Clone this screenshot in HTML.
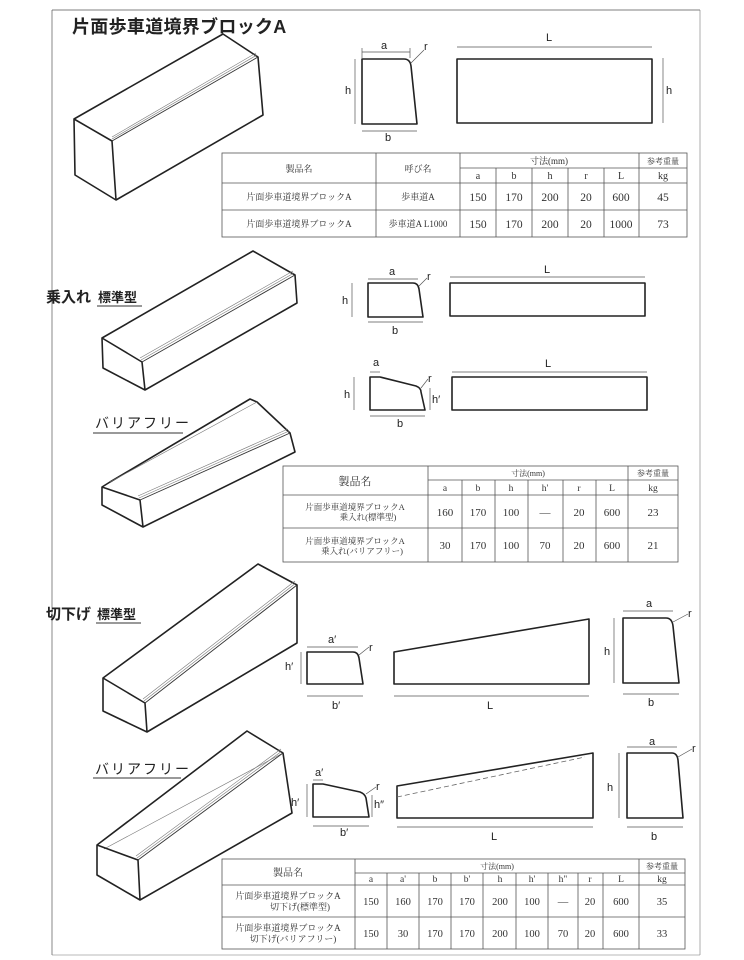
<!DOCTYPE html>
<html><head><meta charset="utf-8"><style>
html,body{margin:0;padding:0;background:#fff;}
svg{display:block;}
.o{fill:none;stroke:#222;stroke-width:1.6;stroke-linejoin:round;}
.t{fill:none;stroke:#333;stroke-width:0.9;}
.d{fill:none;stroke:#555;stroke-width:0.7;}
.g{fill:none;stroke:#777;stroke-width:0.6;}
.s{font-family:"Liberation Sans","Noto Sans CJK JP",sans-serif;fill:#222;}
.tb{font-family:"Liberation Serif","Noto Serif CJK JP",serif;fill:#333;text-anchor:middle;}
.grid{fill:none;stroke:#555;stroke-width:0.8;}
</style></head><body>
<svg width="744" height="960" viewBox="0 0 744 960" xmlns="http://www.w3.org/2000/svg">
<!-- frame -->
<line x1="52" y1="10" x2="700" y2="10" class="d"/>
<line x1="52" y1="10" x2="52" y2="955" class="d"/>
<line x1="700" y1="10" x2="700" y2="955" class="g"/>
<line x1="52" y1="955" x2="700" y2="955" class="g"/>

<text x="72" y="33" class="s" font-size="18" font-weight="bold" letter-spacing="0.3">片面歩車道境界ブロックA</text>

<!-- Block 1 -->
<polygon class="o" points="74,119 223,34 258,57 263,115 116,200 75,175"/>
<polyline class="o" points="74,119 112,141 116,200"/>
<line x1="112" y1="141" x2="258" y2="57" class="t"/>
<line x1="112" y1="139" x2="257" y2="55" class="g"/>
<line x1="112" y1="137" x2="256" y2="53" class="g"/>

<!-- top section views -->
<path class="o" d="M362,59 L404,59 Q410,59 411,66 L417,124 L362,124 Z"/>
<line x1="362" y1="52" x2="410" y2="52" class="d"/><line x1="362" y1="48" x2="362" y2="58" class="d"/><line x1="410" y1="48" x2="410" y2="58" class="d"/>
<text x="381" y="49" class="s" font-size="11">a</text>
<line x1="355" y1="59" x2="355" y2="124" class="d"/>
<text x="345" y="94" class="s" font-size="11">h</text>
<line x1="362" y1="131" x2="417" y2="131" class="d"/>
<text x="385" y="141" class="s" font-size="11">b</text>
<line x1="411" y1="63" x2="424" y2="50" class="d"/>
<text x="424" y="50" class="s" font-size="11">r</text>
<rect x="457" y="59" width="195" height="64" class="o"/>
<line x1="457" y1="47" x2="652" y2="47" class="d"/>
<text x="546" y="41" class="s" font-size="11">L</text>
<line x1="663" y1="58" x2="663" y2="123" class="d"/>
<text x="666" y="94" class="s" font-size="11">h</text>

<!-- Table 1 -->
<g class="grid">
<rect x="222" y="153" width="465" height="84"/>
<line x1="376" y1="153" x2="376" y2="237"/><line x1="460" y1="153" x2="460" y2="237"/>
<line x1="496" y1="168" x2="496" y2="237"/><line x1="532" y1="168" x2="532" y2="237"/>
<line x1="568" y1="168" x2="568" y2="237"/><line x1="604" y1="168" x2="604" y2="237"/>
<line x1="639" y1="153" x2="639" y2="237"/>
<line x1="460" y1="168" x2="687" y2="168"/>
<line x1="222" y1="183" x2="687" y2="183"/><line x1="222" y1="210" x2="687" y2="210"/>
</g>
<g class="tb" font-size="9">
<text x="299" y="172">製品名</text><text x="418" y="172">呼び名</text>
<text x="549" y="164">寸法(mm)</text><text x="663" y="164" font-size="8">参考重量</text>
<text x="299" y="200">片面歩車道境界ブロックA</text><text x="418" y="200">歩車道A</text>
<text x="299" y="227">片面歩車道境界ブロックA</text><text x="418" y="227">歩車道A L1000</text>
</g>
<g class="tb" font-size="10">
<text x="478" y="179">a</text><text x="514" y="179">b</text><text x="550" y="179">h</text><text x="586" y="179">r</text><text x="621" y="179">L</text><text x="663" y="179">kg</text>
</g>
<g class="tb" font-size="11.5">
<text x="478" y="201">150</text><text x="514" y="201">170</text><text x="550" y="201">200</text><text x="586" y="201">20</text><text x="621" y="201">600</text><text x="663" y="201">45</text>
<text x="478" y="228">150</text><text x="514" y="228">170</text><text x="550" y="228">200</text><text x="586" y="228">20</text><text x="621" y="228">1000</text><text x="663" y="228">73</text>
</g>

<!-- Section 2 -->
<text x="46" y="302" class="s" font-size="15" font-weight="bold">乗入れ</text>
<text x="98" y="302" class="s" font-size="13" font-weight="bold">標準型</text>
<line x1="97" y1="306" x2="142" y2="306" class="t"/>
<polygon class="o" points="102,338 253,251 295,275 297,303 145,390 103,368"/>
<polyline class="o" points="102,338 142,362 145,390"/>
<line x1="142" y1="362" x2="295" y2="275" class="t"/>
<line x1="141" y1="360" x2="294" y2="273" class="g"/>
<line x1="140" y1="358" x2="293" y2="271" class="g"/>

<text x="95" y="428" class="s" font-size="14" letter-spacing="2">バリアフリー</text>
<line x1="93" y1="433" x2="183" y2="433" class="t"/>
<polygon class="o" points="102,487 110,482 250,399 257,402 290,433 295,452 143,527 102,505"/>
<line x1="110" y1="482" x2="257" y2="402" class="g"/>
<polyline class="o" points="102,487 140,500 143,527"/>
<line x1="140" y1="500" x2="290" y2="433" class="t"/>
<line x1="139" y1="498" x2="289" y2="431" class="g"/>
<line x1="138" y1="496" x2="288" y2="429" class="g"/>

<!-- section 2 views -->
<path class="o" d="M368,283 L413,283 Q418,283 419,289 L423,317 L368,317 Z"/>
<line x1="368" y1="279" x2="418" y2="279" class="d"/>
<text x="389" y="275" class="s" font-size="11">a</text>
<line x1="352" y1="283" x2="352" y2="317" class="d"/>
<text x="342" y="304" class="s" font-size="11">h</text>
<line x1="368" y1="322" x2="423" y2="322" class="d"/>
<text x="392" y="334" class="s" font-size="11">b</text>
<line x1="419" y1="286" x2="427" y2="278" class="d"/>
<text x="427" y="280" class="s" font-size="11">r</text>
<rect x="450" y="283" width="195" height="33" class="o"/>
<line x1="450" y1="277" x2="645" y2="277" class="d"/>
<text x="544" y="273" class="s" font-size="11">L</text>

<path class="o" d="M370,377 L380,377 L416,386 Q421,388 421,392 L425,410 L370,410 Z"/>
<line x1="370" y1="372" x2="380" y2="372" class="d"/>
<text x="373" y="366" class="s" font-size="11">a</text>
<line x1="354" y1="377" x2="354" y2="410" class="d"/>
<text x="344" y="398" class="s" font-size="11">h</text>
<line x1="430" y1="388" x2="430" y2="410" class="d"/>
<text x="432" y="403" class="s" font-size="11">h′</text>
<line x1="370" y1="416" x2="425" y2="416" class="d"/>
<text x="397" y="427" class="s" font-size="11">b</text>
<line x1="421" y1="388" x2="428" y2="379" class="d"/>
<text x="428" y="382" class="s" font-size="11">r</text>
<rect x="452" y="377" width="195" height="33" class="o"/>
<line x1="452" y1="372" x2="647" y2="372" class="d"/>
<text x="545" y="367" class="s" font-size="11">L</text>

<!-- Table 2 -->
<g class="grid">
<rect x="283" y="466" width="395" height="96"/>
<line x1="428" y1="466" x2="428" y2="562"/>
<line x1="462" y1="480" x2="462" y2="562"/><line x1="495" y1="480" x2="495" y2="562"/>
<line x1="528" y1="480" x2="528" y2="562"/><line x1="563" y1="480" x2="563" y2="562"/>
<line x1="596" y1="480" x2="596" y2="562"/><line x1="628" y1="466" x2="628" y2="562"/>
<line x1="428" y1="480" x2="678" y2="480"/>
<line x1="283" y1="495" x2="678" y2="495"/><line x1="283" y1="528" x2="678" y2="528"/>
</g>
<g class="tb">
<text x="355" y="485" font-size="11">製品名</text>
<text x="528" y="476" font-size="8">寸法(mm)</text><text x="653" y="476" font-size="8">参考重量</text>
<text x="355" y="510" font-size="8.5">片面歩車道境界ブロックA</text><text x="368" y="520" font-size="8.5">乗入れ(標準型)</text>
<text x="355" y="544" font-size="8.5">片面歩車道境界ブロックA</text><text x="362" y="554" font-size="8.5">乗入れ(バリアフリー)</text>
</g>
<g class="tb" font-size="9.5">
<text x="445" y="491">a</text><text x="478" y="491">b</text><text x="511" y="491">h</text><text x="545" y="491">h'</text><text x="579" y="491">r</text><text x="612" y="491">L</text><text x="653" y="491">kg</text>
</g>
<g class="tb" font-size="11">
<text x="445" y="516">160</text><text x="478" y="516">170</text><text x="511" y="516">100</text><text x="545" y="516">—</text><text x="579" y="516">20</text><text x="612" y="516">600</text><text x="653" y="516">23</text>
<text x="445" y="549">30</text><text x="478" y="549">170</text><text x="511" y="549">100</text><text x="545" y="549">70</text><text x="579" y="549">20</text><text x="612" y="549">600</text><text x="653" y="549">21</text>
</g>

<!-- Section 3 -->
<text x="46" y="619" class="s" font-size="15" font-weight="bold">切下げ</text>
<text x="97" y="619" class="s" font-size="13" font-weight="bold">標準型</text>
<line x1="96" y1="623" x2="141" y2="623" class="t"/>
<polygon class="o" points="103,678 258,564 297,585 297,643 147,732 103,711"/>
<polyline class="o" points="103,678 145,703 147,732"/>
<line x1="145" y1="703" x2="297" y2="585" class="t"/>
<line x1="144" y1="701" x2="296" y2="583" class="g"/>
<line x1="143" y1="699" x2="295" y2="581" class="g"/>

<text x="95" y="774" class="s" font-size="14" letter-spacing="2">バリアフリー</text>
<line x1="93" y1="778" x2="181" y2="778" class="t"/>
<polygon class="o" points="97,845 247,731 283,753 292,813 140,900 97,875"/>
<line x1="104" y1="849" x2="283" y2="753" class="g"/>
<polyline class="o" points="97,845 138,860 140,900"/>
<line x1="138" y1="860" x2="283" y2="753" class="t"/>
<line x1="137" y1="858" x2="282" y2="751" class="g"/>
<line x1="136" y1="856" x2="281" y2="749" class="g"/>

<!-- section 3 views upper -->
<path class="o" d="M307,652 L353,652 Q358,652 359,658 L363,684 L307,684 Z"/>
<line x1="307" y1="647" x2="358" y2="647" class="d"/>
<text x="328" y="643" class="s" font-size="11">a′</text>
<line x1="301" y1="652" x2="301" y2="684" class="d"/>
<text x="285" y="670" class="s" font-size="11">h′</text>
<line x1="307" y1="696" x2="363" y2="696" class="d"/>
<text x="332" y="709" class="s" font-size="11">b′</text>
<line x1="359" y1="655" x2="369" y2="647" class="d"/>
<text x="369" y="651" class="s" font-size="11">r</text>
<polygon class="o" points="394,652 589,619 589,684 394,684"/>
<line x1="394" y1="696" x2="589" y2="696" class="d"/>
<text x="487" y="709" class="s" font-size="11">L</text>
<path class="o" d="M623,618 L666,618 Q672,618 673,626 L679,683 L623,683 Z"/>
<line x1="623" y1="611" x2="673" y2="611" class="d"/>
<text x="646" y="607" class="s" font-size="11">a</text>
<line x1="614" y1="618" x2="614" y2="683" class="d"/>
<text x="604" y="655" class="s" font-size="11">h</text>
<line x1="623" y1="694" x2="679" y2="694" class="d"/>
<text x="648" y="706" class="s" font-size="11">b</text>
<line x1="673" y1="622" x2="688" y2="614" class="d"/>
<text x="688" y="617" class="s" font-size="11">r</text>

<!-- section 3 views lower -->
<path class="o" d="M313,784 L323,784 L360,792 Q365,794 366,798 L369,817 L313,817 Z"/>
<line x1="313" y1="780" x2="323" y2="780" class="d"/>
<text x="315" y="776" class="s" font-size="11">a′</text>
<line x1="307" y1="784" x2="307" y2="817" class="d"/>
<text x="291" y="806" class="s" font-size="11">h′</text>
<line x1="372" y1="795" x2="372" y2="817" class="d"/>
<text x="374" y="808" class="s" font-size="11">h″</text>
<line x1="313" y1="826" x2="369" y2="826" class="d"/>
<text x="340" y="836" class="s" font-size="11">b′</text>
<line x1="366" y1="794" x2="376" y2="787" class="d"/>
<text x="376" y="790" class="s" font-size="11">r</text>
<polygon class="o" points="397,786 593,753 593,818 397,818"/>
<line x1="397" y1="797" x2="585" y2="757" stroke="#666" stroke-width="0.8" stroke-dasharray="5,3"/>
<line x1="397" y1="827" x2="593" y2="827" class="d"/>
<text x="491" y="840" class="s" font-size="11">L</text>
<path class="o" d="M627,753 L672,753 Q677,753 678,760 L683,818 L627,818 Z"/>
<line x1="627" y1="747" x2="677" y2="747" class="d"/>
<text x="649" y="745" class="s" font-size="11">a</text>
<line x1="619" y1="753" x2="619" y2="818" class="d"/>
<text x="607" y="791" class="s" font-size="11">h</text>
<line x1="627" y1="827" x2="683" y2="827" class="d"/>
<text x="651" y="840" class="s" font-size="11">b</text>
<line x1="678" y1="757" x2="692" y2="749" class="d"/>
<text x="692" y="752" class="s" font-size="11">r</text>

<!-- Table 3 -->
<g class="grid">
<rect x="222" y="859" width="463" height="90"/>
<line x1="355" y1="859" x2="355" y2="949"/>
<line x1="387" y1="873" x2="387" y2="949"/><line x1="419" y1="873" x2="419" y2="949"/>
<line x1="451" y1="873" x2="451" y2="949"/><line x1="483" y1="873" x2="483" y2="949"/>
<line x1="516" y1="873" x2="516" y2="949"/><line x1="548" y1="873" x2="548" y2="949"/>
<line x1="578" y1="873" x2="578" y2="949"/><line x1="603" y1="873" x2="603" y2="949"/>
<line x1="639" y1="859" x2="639" y2="949"/>
<line x1="355" y1="873" x2="685" y2="873"/>
<line x1="222" y1="885" x2="685" y2="885"/><line x1="222" y1="917" x2="685" y2="917"/>
</g>
<g class="tb">
<text x="288" y="876" font-size="10">製品名</text>
<text x="497" y="869" font-size="8">寸法(mm)</text><text x="662" y="869" font-size="8">参考重量</text>
<text x="288" y="899" font-size="9">片面歩車道境界ブロックA</text><text x="300" y="910" font-size="9">切下げ(標準型)</text>
<text x="288" y="931" font-size="9">片面歩車道境界ブロックA</text><text x="293" y="942" font-size="9">切下げ(バリアフリー)</text>
</g>
<g class="tb" font-size="9.5">
<text x="371" y="882">a</text><text x="403" y="882">a'</text><text x="435" y="882">b</text><text x="467" y="882">b'</text><text x="500" y="882">h</text><text x="532" y="882">h'</text><text x="563" y="882">h"</text><text x="590" y="882">r</text><text x="621" y="882">L</text><text x="662" y="882">kg</text>
</g>
<g class="tb" font-size="10.5">
<text x="371" y="905">150</text><text x="403" y="905">160</text><text x="435" y="905">170</text><text x="467" y="905">170</text><text x="500" y="905">200</text><text x="532" y="905">100</text><text x="563" y="905">—</text><text x="590" y="905">20</text><text x="621" y="905">600</text><text x="662" y="905">35</text>
<text x="371" y="937">150</text><text x="403" y="937">30</text><text x="435" y="937">170</text><text x="467" y="937">170</text><text x="500" y="937">200</text><text x="532" y="937">100</text><text x="563" y="937">70</text><text x="590" y="937">20</text><text x="621" y="937">600</text><text x="662" y="937">33</text>
</g>
</svg>
</body></html>
